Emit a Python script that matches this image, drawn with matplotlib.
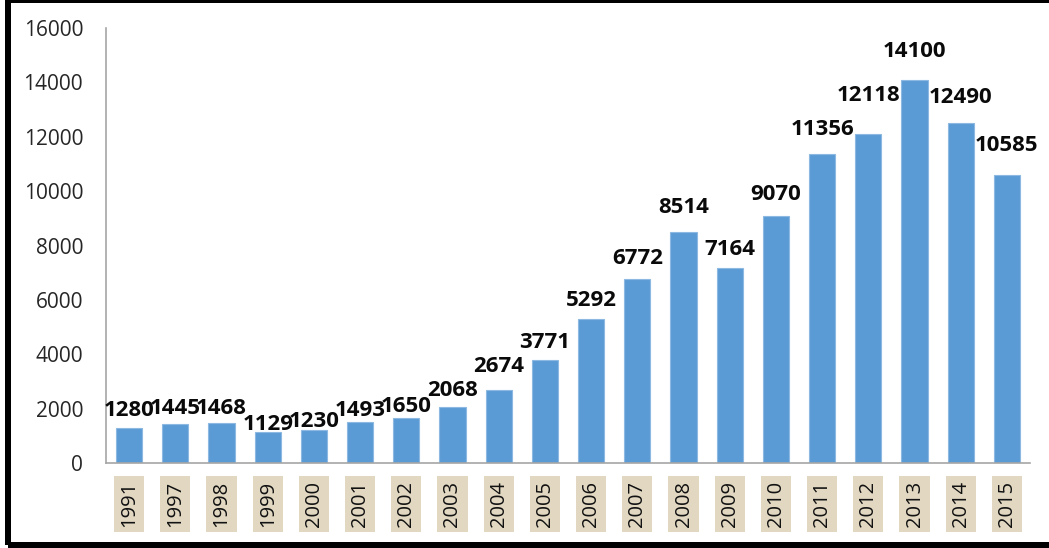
import matplotlib
matplotlib.use("Agg")
import matplotlib.pyplot as plt
from matplotlib.patches import Rectangle

# Data
years = ["1991", "1997", "1998", "1999", "2000", "2001", "2002", "2003", "2004", "2005",
         "2006", "2007", "2008", "2009", "2010", "2011", "2012", "2013", "2014", "2015"]
values = [1280, 1445, 1468, 1129, 1230, 1493, 1650, 2068, 2674, 3771,
          5292, 6772, 8514, 7164, 9070, 11356, 12118, 14100, 12490, 10585]

# Gap (pixels) between each bar top and its value label baseline
label_lift = [12, 10, 9, 2, 3, 6, 6, 11, 18, 12,
              13, 15, 19, 13, 16, 19, 33, 23, 20, 24]

W, H, DPI = 1049, 548, 100
fig = plt.figure(figsize=(W / DPI, H / DPI), dpi=DPI)
fig.patch.set_facecolor("white")

ax = fig.add_axes([106 / W, 1 - 463 / H, (1030 - 106) / W, (463 - 28) / H])

x = list(range(len(years)))
ax.bar(x, values, width=0.565, color="#5B9BD5", edgecolor="#8CB8E2", linewidth=0.8, zorder=2)

ax.set_xlim(-0.5, len(years) - 0.5)
ax.set_ylim(0, 16000)
ax.set_yticks(range(0, 16001, 2000))
ax.set_yticklabels([str(v) for v in range(0, 16001, 2000)],
                   fontfamily="Open Sans", fontsize=15, color="#262626")

ax.set_xticks(x)
ax.set_xticklabels(years, rotation=90, fontfamily="Open Sans", fontsize=14.5,
                   color="#111111")
for lbl in ax.get_xticklabels():
    lbl.set_bbox(dict(boxstyle="square,pad=0.25", facecolor="#E2D8C2",
                      edgecolor="none"))

ax.tick_params(axis="y", length=0, pad=16.5)
ax.tick_params(axis="x", length=0, pad=13)

for side in ("top", "right"):
    ax.spines[side].set_visible(False)
for side in ("left", "bottom"):
    ax.spines[side].set_color("#A6A6A6")
    ax.spines[side].set_linewidth(1.2)

for xi, v, lift in zip(x, values, label_lift):
    ax.annotate(str(v), xy=(xi, v), xytext=(0, lift * 72 / DPI),
                textcoords="offset points", ha="center", va="baseline",
                fontfamily="Open Sans", fontweight="bold", fontsize=16,
                color="#0A0A0A", zorder=3, annotation_clip=False)

# Thick black frame around the chart area
frame = Rectangle((8 / W, 3 / H), 1.2, 1 - 3 / H, transform=fig.transFigure,
                  facecolor="none", edgecolor="black", linewidth=6 * 72 / DPI,
                  clip_on=True)
fig.patches.append(frame)

fig.savefig("out.png", dpi=DPI)
